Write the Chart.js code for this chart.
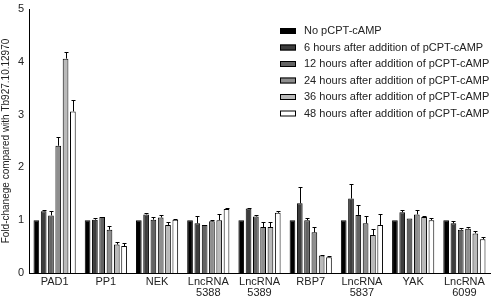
<!DOCTYPE html>
<html>
<head>
<meta charset="utf-8">
<script src="https://cdn.jsdelivr.net/npm/chart.js@4"></script>
<style>
  html, body { margin: 0; padding: 0; background: #fff; }
  #wrap { width: 494px; height: 299px; }
</style>
</head>
<body>
<div id="wrap"><canvas id="chart"></canvas></div>
<script>
var genes = [["PAD1"], ["PP1"], ["NEK"], ["LncRNA", "5388"], ["LncRNA", "5389"], ["RBP7"], ["LncRNA", "5837"], ["YAK"], ["LncRNA", "6099"]];
var seriesNames = ["No pCPT-cAMP", "6 hours after addition of pCPT-cAMP", "12 hours after addition of pCPT-cAMP",
    "24 hours after addition of pCPT-cAMP", "36 hours after addition of pCPT-cAMP", "48 hours after addition of pCPT-cAMP"];
var seriesColors = ["#000000", "#3d3d3d", "#636363", "#8e8e8e", "#bababa", "#ffffff"];

// mean values per time point
var noCamp = [1, 1, 1, 1, 1, 1, 1, 1, 1];
var h6 = [1.17, 1.01, 1.11, 0.94, 1.22, 1.32, 1.41, 1.15, 0.94];
var h12 = [1.09, 1.06, 1.01, 0.91, 1.07, 1.00, 1.10, 1.03, 0.82];
var h24 = [2.41, 0.82, 1.05, 0.98, 0.87, 0.77, 0.94, 1.11, 0.84];
var h36 = [4.06, 0.54, 0.91, 1.00, 0.87, 0.33, 0.72, 1.06, 0.75];
var h48 = [3.06, 0.51, 1.01, 1.21, 1.14, 0.30, 0.91, 1.00, 0.64];

// upper error (size of bar)
var noCampErr = [0, 0, 0, 0, 0, 0, 0, 0, 0];
var h6Err = [0.03, 0.03, 0.02, 0.14, 0.02, 0.30, 0.27, 0.05, 0.05];
var h12Err = [0.08, 0, 0.05, 0, 0.03, 0.04, 0.18, 0, 0.03];
var h24Err = [0.17, 0.07, 0.05, 0.03, 0.10, 0.10, 0.14, 0.08, 0.03];
var h36Err = [0.12, 0.05, 0.05, 0.11, 0.09, 0.01, 0.12, 0.02, 0.04];
var h48Err = [0.21, 0.05, 0.02, 0.02, 0.04, 0.03, 0.21, 0.05, 0.05];

var yTicks = [0, 1, 2, 3, 4, 5];

var allValues = [noCamp, h6, h12, h24, h36, h48];
var allErrs = [noCampErr, h6Err, h12Err, h24Err, h36Err, h48Err];

var datasets = [];
for (var i = 0; i < allValues.length; i++) {
    datasets.push({
        label: seriesNames[i],
        data: allValues[i],
        errs: allErrs[i],
        backgroundColor: seriesColors[i],
        borderColor: "#000",
        borderWidth: 1,
        categoryPercentage: 0.855,
        barPercentage: 0.78
    });
}

// error bars, upward only
var errorBars = {
    id: "errorBars",
    afterDatasetsDraw: function (chart) {
        var ctx = chart.ctx;
        var yScale = chart.scales.y;
        ctx.save();
        ctx.strokeStyle = "#000";
        ctx.lineWidth = 1;
        chart.data.datasets.forEach(function (ds, di) {
            var meta = chart.getDatasetMeta(di);
            meta.data.forEach(function (bar, j) {
                var e = ds.errs[j];
                if (!e) return;
                var x = Math.round(bar.x) + 0.5;
                var yTop = Math.round(yScale.getPixelForValue(ds.data[j] + e)) + 0.5;
                var yBase = yScale.getPixelForValue(ds.data[j]);
                ctx.beginPath();
                ctx.moveTo(x, yBase);
                ctx.lineTo(x, yTop);
                ctx.moveTo(x - 2, yTop);
                ctx.lineTo(x + 2, yTop);
                ctx.stroke();
            });
        });
        ctx.restore();
    }
};

// legend drawn inside the plot, top right
var insideLegend = {
    id: "insideLegend",
    afterDraw: function (chart) {
        var ctx = chart.ctx;
        ctx.save();
        ctx.font = "11px 'Liberation Sans', Arial, sans-serif";
        ctx.textBaseline = "middle";
        chart.data.datasets.forEach(function (ds, i) {
            var y = 31 + i * 16.5;
            ctx.fillStyle = ds.backgroundColor;
            ctx.fillRect(280, y - 3, 16, 6);
            ctx.strokeStyle = "#000";
            ctx.lineWidth = 1;
            ctx.strokeRect(280.5, y - 2.5, 15, 5);
            ctx.fillStyle = "#222";
            ctx.fillText(ds.label, 304, y);
        });
        ctx.restore();
    }
};

new Chart(document.getElementById("chart"), {
    type: "bar",
    data: { labels: genes, datasets: datasets },
    options: {
        responsive: true,
        maintainAspectRatio: false,
        animation: false,
        layout: { padding: { top: 9, right: 4, left: 0, bottom: 0 } },
        plugins: {
            legend: { display: false },
            tooltip: { enabled: false }
        },
        scales: {
            x: {
                grid: { display: false, drawTicks: true, tickLength: 3, tickColor: "#000" },
                border: { color: "#000", width: 1 },
                ticks: {
                    color: "#222",
                    font: { family: "'Liberation Sans', Arial, sans-serif", size: 11, lineHeight: 1.0 },
                    padding: 0,
                    maxRotation: 0,
                    autoSkip: false
                },
                afterFit: function (scale) { scale.height = 26; }
            },
            y: {
                min: 0,
                max: 5,
                afterBuildTicks: function (scale) {
                    scale.ticks = yTicks.map(function (v) { return { value: v }; });
                },
                grid: { display: false, drawTicks: true, tickLength: 4, tickColor: "#000" },
                border: { color: "#000", width: 1 },
                ticks: {
                    color: "#222",
                    font: { family: "'Liberation Sans', Arial, sans-serif", size: 11 },
                    padding: 1
                },
                title: {
                    display: true,
                    text: "Fold-chanege compared with Tb927.10.12970",
                    color: "#222",
                    font: { family: "'Liberation Sans', Arial, sans-serif", size: 10 },
                    padding: { top: 0, bottom: 2 }
                },
                afterFit: function (scale) { scale.width = 29; }
            }
        }
    },
    plugins: [errorBars, insideLegend]
});
</script>
</body>
</html>
